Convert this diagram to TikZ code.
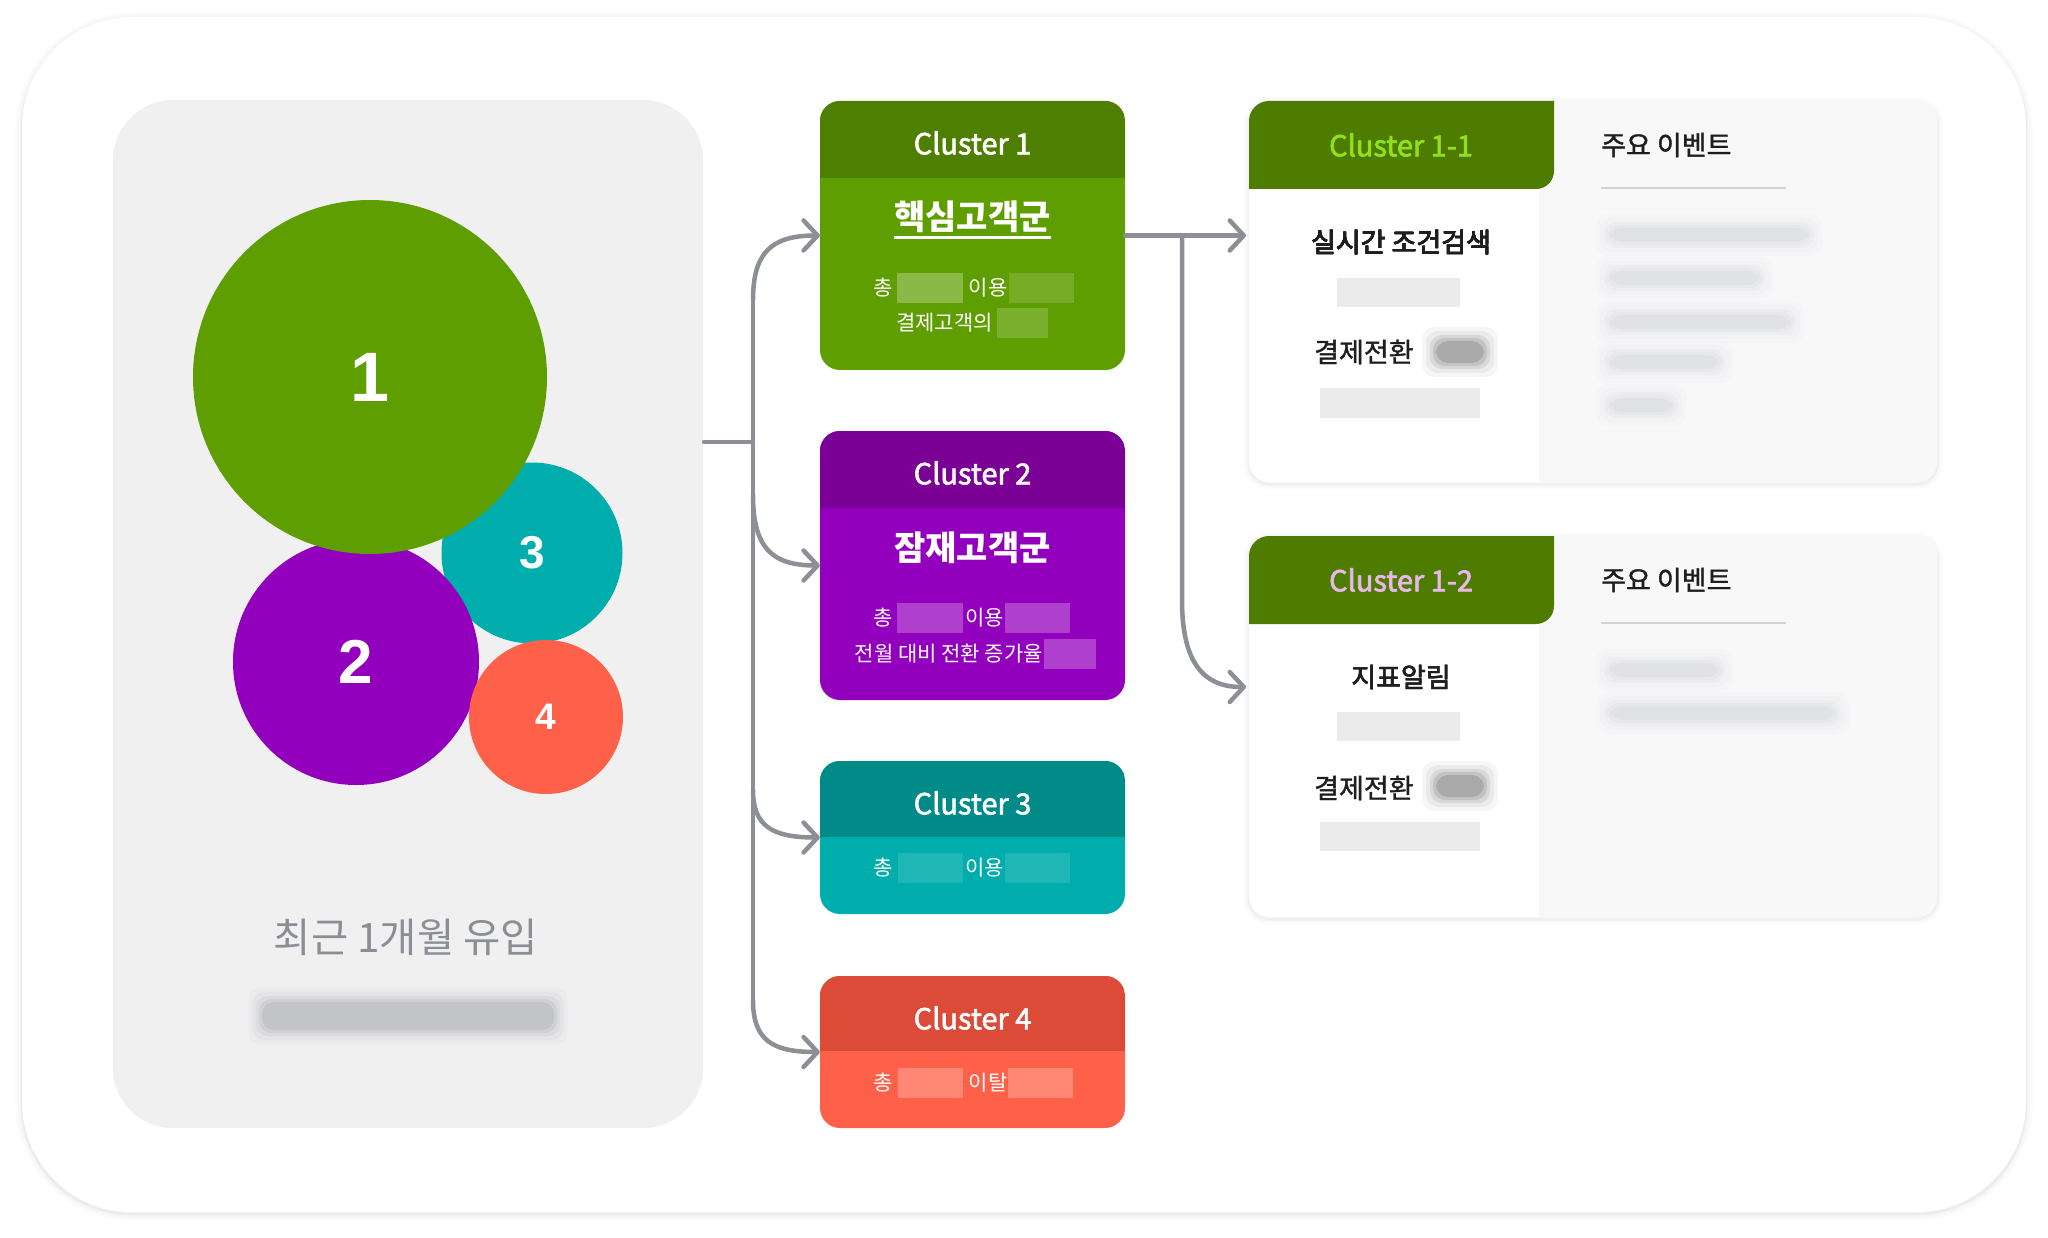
\documentclass[tikz,border=0pt]{standalone}
\usepackage{fontspec}
\setmainfont{Noto Sans CJK KR}
\newfontfamily\krmid{Noto Sans CJK KR}[FakeBold=1.3]
\newfontfamily\krhead{Noto Sans CJK KR}[FakeBold=2.2]
\newfontfamily\numfont{Liberation Sans}
\usetikzlibrary{arrows.meta}

\definecolor{cgreen}{HTML}{5F9E00}
\definecolor{cgreenhd}{HTML}{4F7F00}
\definecolor{cpurple}{HTML}{9300BD}
\definecolor{cpurplehd}{HTML}{7A0096}
\definecolor{cteal}{HTML}{00ADAD}
\definecolor{ctealhd}{HTML}{008B89}
\definecolor{cred}{HTML}{FF6049}
\definecolor{credhd}{HTML}{DC4A38}
\definecolor{panelgray}{HTML}{F0F0F1}
\definecolor{linegray}{HTML}{8D8F96}
\definecolor{labelgray}{HTML}{8B8E94}
\definecolor{tabgreen}{HTML}{4E7C00}
\definecolor{limetxt}{HTML}{92E01C}
\definecolor{pinktxt}{HTML}{E9B8EA}
\definecolor{inkdark}{HTML}{1E1E1E}
\definecolor{sidegray}{HTML}{F8F8F9}
\definecolor{fog}{HTML}{CFD0D4}
\definecolor{fogdark}{HTML}{9C9EA3}
\definecolor{blobgray}{HTML}{5E5E5E}
\definecolor{rulegray}{HTML}{D2D3D6}
\definecolor{boxgray}{HTML}{EBEBEC}

\newcommand{\fsz}[1]{\fontsize{#1}{#1}\selectfont}
% soft blurred bar: x1 y1 x2 y2 colour
\newcommand{\smudge}[5]{%
  \foreach \g/\o in {14/0.05,10/0.08,6/0.12,3/0.17,0/0.24}
    \fill[#5, opacity=\o, rounded corners=12pt] ({#1-\g},{#2-\g}) rectangle ({#3+\g},{#4+\g});}

\tikzset{
  bubble/.style={circle, inner sep=0pt, text=white, font=\numfont\bfseries},
  clusterbox/.style={rounded corners=20pt, inner sep=0pt, minimum width=305pt},
  card/.style={fill=white, rounded corners=20pt, inner sep=0pt, minimum width=688pt, minimum height=381pt},
  headtxt/.style={text=white, inner sep=0pt, font=\krhead\fsz{29}},
  titletxt/.style={text=white, inner sep=0pt, font=\bfseries\fsz{34}},
  smalltxt/.style={text=white, inner sep=0pt, font=\fsz{21}},
  cardtxt/.style={text=inkdark, inner sep=0pt, font=\krmid\fsz{27}},
  trunk/.style={draw=linegray, line width=4.5pt, line cap=round},
  flow/.style={trunk, -{Straight Barb[length=14pt,width=30pt,round]}}
}

\begin{document}
\begin{tikzpicture}[x=1pt, y=-1pt]
	\useasboundingbox (0,0) rectangle (2048,1238);
	\fill[white] (0,0) rectangle (2048,1238);
	% outer card
	\foreach \w/\o in {14pt/0.01,9pt/0.015,5pt/0.02,2pt/0.03}
		\draw[black, opacity=\o, line width=\w, rounded corners=110pt] (22,19) rectangle (2026,1214);
	\fill[white, rounded corners=110pt] (22,17) rectangle (2026,1212);

	% left panel with the bubbles
	\node[fill=panelgray, rounded corners=60pt, inner sep=0pt, minimum width=590pt, minimum height=1028pt] (panel) at (408,614) {};
	\node[bubble, fill=cteal, minimum size=181pt, font=\numfont\bfseries\fsz{46}] (b3) at (532,553) {3};
	\node[bubble, fill=cpurple, minimum size=246pt, font=\numfont\bfseries\fsz{62}] (b2) at (356,662) {2};
	\node[bubble, fill=cred, minimum size=154pt, font=\numfont\bfseries\fsz{37}] (b4) at (546,717) {4};
	\node[bubble, fill=cgreen, minimum size=354pt, font=\numfont\bfseries\fsz{70}] (b1) at (370,377) {1};
	\node[text=labelgray, inner sep=0pt, font=\fsz{40.5}] (inflow) at (406,937) {최근 1개월 유입};
	\smudge{262}{1002}{554}{1030}{fogdark}

	% cluster 1
	\node[clusterbox, fill=cgreen, minimum height=269pt] (c1) at (972.5,235.5) {};
	\begin{scope}
		\clip[rounded corners=20pt] (820,101) rectangle (1125,370);
		\fill[cgreenhd] (820,101) rectangle (1125,178);
	\end{scope}
	\node[headtxt] (c1h) at (972.5,143) {Cluster 1};
	\node[titletxt] (c1n) at (972.5,217) {핵심고객군};
	\draw[white, line width=3pt] ([yshift=-8pt]c1n.base west) -- ([yshift=-8pt]c1n.base east);
	\fill[white, opacity=0.28] (897,273) rectangle (963,303);
	\fill[white, opacity=0.15] (1009,273) rectangle (1074,303);
	\fill[white, opacity=0.18] (997,308) rectangle (1048,338);
	\node[smalltxt] (c1a) at (883.5,288) {총};
	\node[smalltxt] (c1b) at (988,288) {이용};
	\node[smalltxt] (c1c) at (944.5,323) {결제고객의};

	% cluster 2
	\node[clusterbox, fill=cpurple, minimum height=269pt] (c2) at (972.5,565.5) {};
	\begin{scope}
		\clip[rounded corners=20pt] (820,431) rectangle (1125,700);
		\fill[cpurplehd] (820,431) rectangle (1125,508);
	\end{scope}
	\node[headtxt] (c2h) at (972.5,473) {Cluster 2};
	\node[titletxt] (c2n) at (972.5,548) {잠재고객군};
	\fill[white, opacity=0.25] (897,603) rectangle (963,633);
	\fill[white, opacity=0.25] (1005,603) rectangle (1070,633);
	\fill[white, opacity=0.25] (1044,639) rectangle (1096,669);
	\node[smalltxt] (c2a) at (883.5,618) {총};
	\node[smalltxt] (c2b) at (984.5,618) {이용};
	\node[smalltxt, anchor=east] (c2c) at (1043,654) {전월 대비 전환 증가율};

	% cluster 3
	\node[clusterbox, fill=cteal, minimum height=153pt] (c3) at (972.5,837.5) {};
	\begin{scope}
		\clip[rounded corners=20pt] (820,761) rectangle (1125,914);
		\fill[ctealhd] (820,761) rectangle (1125,837);
	\end{scope}
	\node[headtxt] (c3h) at (972.5,803) {Cluster 3};
	\fill[white, opacity=0.12] (898,853) rectangle (963,883);
	\fill[white, opacity=0.12] (1005,853) rectangle (1070,883);
	\node[smalltxt] (c3a) at (883.5,868) {총};
	\node[smalltxt] (c3b) at (984.5,868) {이용};

	% cluster 4
	\node[clusterbox, fill=cred, minimum height=152pt] (c4) at (972.5,1052) {};
	\begin{scope}
		\clip[rounded corners=20pt] (820,976) rectangle (1125,1128);
		\fill[credhd] (820,976) rectangle (1125,1051);
	\end{scope}
	\node[headtxt] (c4h) at (972.5,1018) {Cluster 4};
	\fill[white, opacity=0.25] (898,1068) rectangle (963,1098);
	\fill[white, opacity=0.25] (1008,1068) rectangle (1073,1098);
	\node[smalltxt] (c4a) at (883.5,1083) {총};
	\node[smalltxt] (c4b) at (988,1083) {이탈};

	% card for cluster 1-1
	\foreach \w/\o in {12pt/0.01,7pt/0.015,3pt/0.03}
		\draw[black, opacity=\o, line width=\w, rounded corners=20pt] (1249,103) rectangle (1937,484);
	\node[card] (k11) at (1593,291.5) {};
	\begin{scope}
		\clip[rounded corners=20pt] (1249,101) rectangle (1937,482);
		\fill[sidegray] (1539,101) rectangle (1937,482);
		\fill[tabgreen, rounded corners=18pt] (1219,71) rectangle (1554,189);
	\end{scope}
	\node[headtxt, text=limetxt, font=\krhead\fsz{29}] (k11h) at (1401,145) {Cluster 1-1};
	\node[cardtxt, anchor=west] (k11e) at (1601,145) {주요 이벤트};
	\draw[rulegray, line width=1.5pt] (1601,188) -- (1786,188);
	\foreach \y/\e in {235/1816, 278/1767, 322/1798, 362/1727, 405/1680}
		\smudge{1610}{\y-7}{\e-8}{\y+7}{fog}
	\node[cardtxt] (k11a) at (1401,242) {실시간 조건검색};
	\fill[boxgray] (1337,278) rectangle (1460,307);
	\node[cardtxt, anchor=west] (k11b) at (1314,352) {결제전환};
	\smudge{1436}{341}{1484}{363}{blobgray}
	\fill[boxgray] (1320,388) rectangle (1480,418);

	% card for cluster 1-2
	\foreach \w/\o in {12pt/0.01,7pt/0.015,3pt/0.03}
		\draw[black, opacity=\o, line width=\w, rounded corners=20pt] (1249,538) rectangle (1937,919);
	\node[card] (k12) at (1593,726.5) {};
	\begin{scope}
		\clip[rounded corners=20pt] (1249,536) rectangle (1937,917);
		\fill[sidegray] (1539,536) rectangle (1937,917);
		\fill[tabgreen, rounded corners=18pt] (1219,506) rectangle (1554,624);
	\end{scope}
	\node[headtxt, text=pinktxt, font=\krhead\fsz{29}] (k12h) at (1401,580) {Cluster 1-2};
	\node[cardtxt, anchor=west] (k12e) at (1601,580) {주요 이벤트};
	\draw[rulegray, line width=1.5pt] (1601,623) -- (1786,623);
	\foreach \y/\e in {670/1727, 713/1843}
		\smudge{1610}{\y-7}{\e-8}{\y+7}{fog}
	\node[cardtxt] (k12a) at (1401,677) {지표알림};
	\fill[boxgray] (1337,712) rectangle (1460,741);
	\node[cardtxt, anchor=west] (k12b) at (1314,788) {결제전환};
	\smudge{1436}{775}{1484}{797}{blobgray}
	\fill[boxgray] (1320,822) rectangle (1480,851);

	% connectors from the panel to the clusters
	\coordinate (hub) at (704,442);
	\coordinate (fork) at (753,442);
	\draw[trunk] (hub) -- (fork);
	\draw[trunk] (753,300) -- (753,1000);
	\draw[flow] (753,300) .. controls (753,252) and (772,235.5) .. (c1.west);
	\draw[flow] (753,495) .. controls (753,548) and (772,565.5) .. (c2.west);
	\draw[flow] (753,790) .. controls (753,826) and (772,837.5) .. (c3.west);
	\draw[flow] (753,1000) .. controls (753,1040) and (772,1052) .. (c4.west);

	% connectors from cluster 1 to its sub clusters
	\coordinate (split) at (1182,235.5);
	\coordinate (in11) at (1246,235.5);
	\coordinate (in12) at (1246,687);
	\draw[flow] (c1.east) -- (in11);
	\draw[flow] (split) -- (1182,600) .. controls (1182,665) and (1205,687) .. (in12);
\end{tikzpicture}
\end{document}
